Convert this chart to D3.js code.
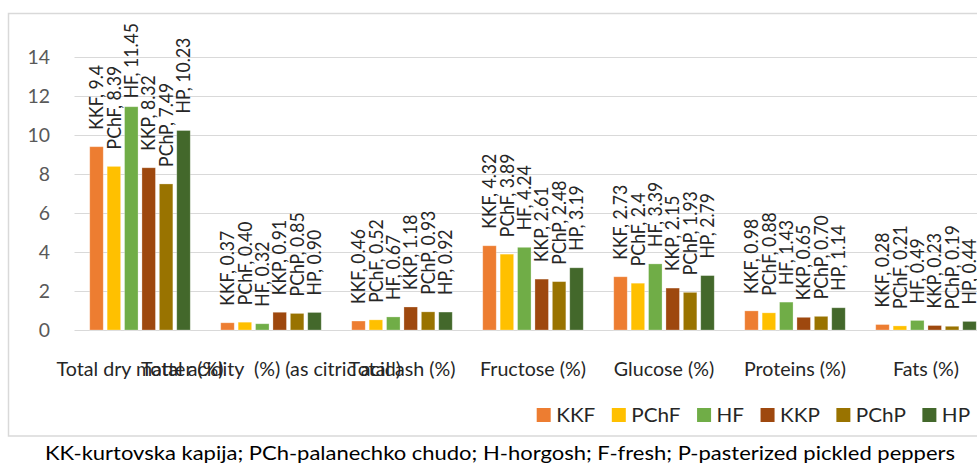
<!DOCTYPE html>
<html>
<head>
<meta charset="utf-8">
<script src="https://cdn.jsdelivr.net/npm/d3@7"></script>
<style>
  html, body { margin: 0; padding: 0; background: #fff; overflow: hidden; }
  svg { display: block; }
  text { font-family: Lato, "Open Sans", sans-serif; }
</style>
</head>
<body>
<svg id="chart" width="977" height="466"></svg>
<script>
// ---------- data ----------
const categories = [
  "Total dry matter (%)",
  "Total acidity  (%) (as citric acid)",
  "Total ash (%)",
  "Fructose (%)",
  "Glucose (%)",
  "Proteins (%)",
  "Fats (%)"
];
const seriesNames = ["KKF", "PChF", "HF", "KKP", "PChP", "HP"];
const KKF  = ["9.4",   "0.37", "0.46", "4.32", "2.73", "0.98", "0.28"];
const PChF = ["8.39",  "0.40", "0.52", "3.89", "2.4",  "0.88", "0.21"];
const HF   = ["11.45", "0.32", "0.67", "4.24", "3.39", "1.43", "0.49"];
const KKP  = ["8.32",  "0.91", "1.18", "2.61", "2.15", "0.65", "0.23"];
const PChP = ["7.49",  "0.85", "0.93", "2.48", "1.93", "0.70", "0.19"];
const HP   = ["10.23", "0.90", "0.92", "3.19", "2.79", "1.14", "0.44"];
const yTicks = [0, 2, 4, 6, 8, 10, 12, 14];
const colors = ["#ED7D31", "#FFC000", "#70AD47", "#9E480E", "#997300", "#43682B"];
const caption = "KK-kurtovska kapija; PCh-palanechko chudo; H-horgosh; F-fresh; P-pasterized pickled peppers";

const seriesData = [KKF, PChF, HF, KKP, PChP, HP];

// ---------- layout ----------
const svg = d3.select("#chart");
const plotLeft = 74.5, band = 131;
const yBase = 330, yTop = 57;
const capRatio = 0.7165;            // Lato cap height / em

// Lato stands in for Calibri: size by cap height, then fit width
const probe = svg.append("text").attr("x", -1000).attr("y", -1000);
function makeStyle(capPx, sample, targetW) {
  const fs = capPx / capRatio;
  probe.attr("font-size", fs).text(sample);
  return { fs, k: targetW / probe.node().getComputedTextLength(), cap: capPx };
}
const stTick = makeStyle(14.3, "14", 22.5);
const stCat  = makeStyle(13.8, "Fructose (%)", 106);
const stLab  = makeStyle(13.3, "KKF, 0.37", 75);
const stLeg  = makeStyle(13.5, "PChP", 50);
const stCap  = makeStyle(13.5, caption, 910);
probe.remove();

function applyStyle(sel, st) {
  sel.attr("font-size", st.fs).each(function () {
    const w = this.getComputedTextLength() * st.k;
    this.__len = w;
    d3.select(this).attr("textLength", w).attr("lengthAdjust", "spacingAndGlyphs");
  });
  return sel;
}

const x0 = d3.scaleBand().domain(categories).range([plotLeft, plotLeft + band * categories.length]);
const x1 = d3.scaleBand().domain(seriesNames).range([0, x0.bandwidth()])
  .paddingInner(0.224).paddingOuter(0.876);
const y = d3.scaleLinear().domain([0, 14]).range([yBase, yTop]);

// chart border
svg.append("rect")
  .attr("x", 8.5).attr("y", 13.5).attr("width", 1600).attr("height", 422.5)
  .attr("fill", "none").attr("stroke", "#d9d9d9").attr("stroke-width", 1.5);

// gridlines
svg.append("g").selectAll("line").data(yTicks).join("line")
  .attr("x1", plotLeft).attr("x2", 1000)
  .attr("y1", d => Math.round(y(d)) + 0.5).attr("y2", d => Math.round(y(d)) + 0.5)
  .attr("stroke", "#d9d9d9").attr("stroke-width", 1.2);

// y tick labels
applyStyle(
  svg.append("g").selectAll("text").data(yTicks).join("text")
    .attr("x", 50).attr("y", d => y(d) + stTick.cap / 2)
    .attr("text-anchor", "end").attr("fill", "#595959")
    .text(d => d),
  stTick);

// bars
const groups = svg.append("g").selectAll("g").data(categories).join("g")
  .attr("transform", c => `translate(${x0(c)},0)`);
const cell = (c, ci) => seriesNames.map((s, si) => ({ s, si, v: +seriesData[si][ci], t: seriesData[si][ci] }));

groups.selectAll("rect").data(cell).join("rect")
  .attr("x", d => x1(d.s)).attr("width", x1.bandwidth())
  .attr("y", d => y(d.v)).attr("height", d => yBase - y(d.v))
  .attr("fill", d => colors[d.si])
  .attr("stroke", "#ffffff").attr("stroke-opacity", 0.35).attr("stroke-width", 0.8);

// data labels (rotated)
applyStyle(
  groups.selectAll("text").data(cell).join("text")
    .attr("fill", "#262626")
    .text(d => `${d.s}, ${d.t}`),
  stLab)
  .each(function (d) {
    const len = this.__len;
    let start = y(d.v) - 17;
    if (start - len < 23) start = 23 + len;
    const cx = x1(d.s) + x1.bandwidth() / 2 + stLab.cap / 2;
    d3.select(this).attr("transform", `translate(${cx},${start}) rotate(-90)`);
  });

// category labels
applyStyle(
  svg.append("g").selectAll("text").data(categories).join("text")
    .attr("x", c => x0(c) + x0.bandwidth() / 2).attr("y", 376)
    .attr("text-anchor", "middle").attr("fill", "#262626")
    .style("white-space", "pre")
    .text(c => c),
  stCat);

// legend
const leg = svg.append("g");
let lx = 536.7;
seriesNames.forEach((s, i) => {
  leg.append("rect").attr("x", lx).attr("y", 408).attr("width", 14).attr("height", 14)
    .attr("fill", colors[i]);
  const t = leg.append("text").attr("x", lx + 19.5).attr("y", 415 + stLeg.cap / 2)
    .attr("fill", "#262626").text(s);
  applyStyle(t, stLeg);
  lx += 19.5 + t.node().__len + 16.5;
});

// caption
applyStyle(
  svg.append("text")
    .attr("x", 500).attr("y", 460)
    .attr("text-anchor", "middle").attr("fill", "#000")
    .text(caption),
  stCap);
</script>
</body>
</html>
